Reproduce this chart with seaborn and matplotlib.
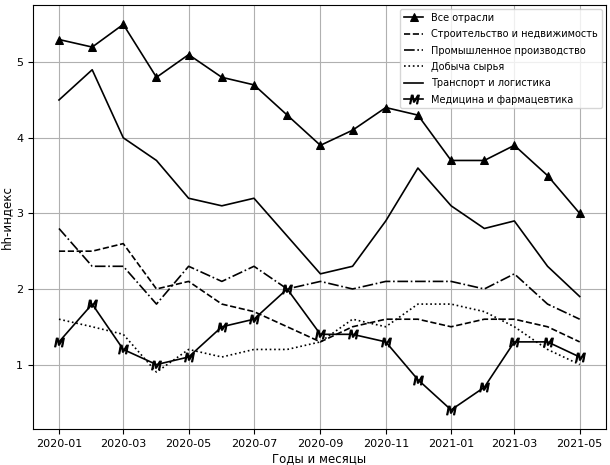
import pandas as pd
import numpy as np
import seaborn as sns
import matplotlib.pyplot as plt
import matplotlib.dates as mdates

# monthly hh-index values
months = pd.date_range('2020-01-01', '2021-05-01', freq='MS')

all_sectors = [5.3, 5.2, 5.5, 4.8, 5.1, 4.8, 4.7, 4.3, 3.9, 4.1, 4.4, 4.3, 3.7, 3.7, 3.9, 3.5, 3.0]
construction = [2.5, 2.5, 2.6, 2.0, 2.1, 1.8, 1.7, 1.5, 1.3, 1.5, 1.6, 1.6, 1.5, 1.6, 1.6, 1.5, 1.3]
industry = [2.8, 2.3, 2.3, 1.8, 2.3, 2.1, 2.3, 2.0, 2.1, 2.0, 2.1, 2.1, 2.1, 2.0, 2.2, 1.8, 1.6]
mining = [1.6, 1.5, 1.4, 0.9, 1.2, 1.1, 1.2, 1.2, 1.3, 1.6, 1.5, 1.8, 1.8, 1.7, 1.5, 1.2, 1.0]
transport = [4.5, 4.9, 4.0, 3.7, 3.2, 3.1, 3.2, 2.7, 2.2, 2.3, 2.9, 3.6, 3.1, 2.8, 2.9, 2.3, 1.9]
medicine = [1.3, 1.8, 1.2, 1.0, 1.1, 1.5, 1.6, 2.0, 1.4, 1.4, 1.3, 0.8, 0.4, 0.7, 1.3, 1.3, 1.1]

labels = ['Все отрасли', 'Строительство и недвижимость', 'Промышленное производство',
          'Добыча сырья', 'Транспорт и логистика', 'Медицина и фармацевтика']

df = pd.DataFrame({'month': months,
                   labels[0]: all_sectors,
                   labels[1]: construction,
                   labels[2]: industry,
                   labels[3]: mining,
                   labels[4]: transport,
                   labels[5]: medicine})

styles = {
    labels[0]: dict(linestyle='-', marker='^', markersize=6),
    labels[1]: dict(linestyle='--'),
    labels[2]: dict(linestyle='-.'),
    labels[3]: dict(linestyle=':'),
    labels[4]: dict(linestyle='-'),
    labels[5]: dict(linestyle='-', marker='$M$', markersize=7),
}

fig, ax = plt.subplots(figsize=(6.1, 4.65), dpi=100)
for name in labels:
    sns.lineplot(data=df, x='month', y=name, ax=ax, color='black', linewidth=1.2,
                 label=name, markeredgecolor='black', **styles[name])

ax.grid(True, color='#b0b0b0', linewidth=0.8)
ax.xaxis.set_major_locator(mdates.MonthLocator(bymonth=[1, 3, 5, 7, 9, 11]))
ax.xaxis.set_major_formatter(mdates.DateFormatter('%Y-%m'))
ax.tick_params(labelsize=8)
ax.set_xlabel('Годы и месяцы', fontsize=8.5, labelpad=2)
ax.set_ylabel('hh-индекс', fontsize=8.5, labelpad=2)
ax.legend(loc='upper right', fontsize=7, labelspacing=0.65, borderaxespad=0.4)
plt.subplots_adjust(left=0.054, right=0.993, top=0.989, bottom=0.077)
plt.savefig('out.png')
